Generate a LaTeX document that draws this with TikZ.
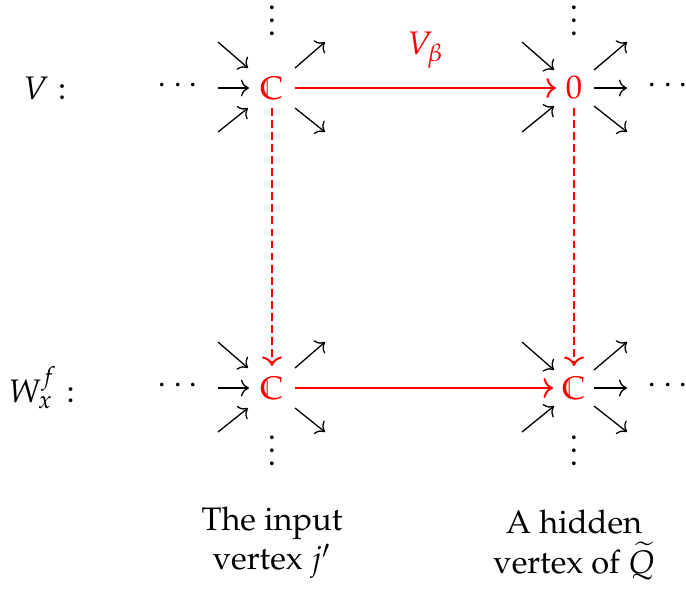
\documentclass[tikz,border=0pt]{standalone}
\usepackage[T1]{fontenc}
\usepackage{amssymb}
\usepackage{mathpazo}
\usetikzlibrary{arrows.meta}
\begin{document}
\begin{tikzpicture}[x=0.307pt,y=-0.307pt,
  stub/.style={->,line width=0.4pt},
  redarr/.style={->,red,line width=0.6pt},
  reddash/.style={->,red,line width=0.6pt,dash pattern=on 2.4pt off 1.3pt},
  vtx/.style={inner sep=0pt,text=red},
  lbl/.style={align=center,inner sep=0pt}]
\useasboundingbox (0,0) rectangle (686,590);
% vertices
\node[vtx] (cL) at (272,88) {$\mathbb{C}$};
\node[vtx] (zR) at (574,88) {$0$};
\node[vtx] (cBL) at (272,388) {$\mathbb{C}$};
\node[vtx] (cBR) at (574,388) {$\mathbb{C}$};
% row labels
\node (lV) at (45,88) {$V:$};
\node (lW) at (42,388) {$W^f_x:$};
% dots
\node (dl1) at (178,86) {$\cdots$};
\node (dl2) at (178,386) {$\cdots$};
\node (dr1) at (668,86) {$\cdots$};
\node (dr2) at (668,386) {$\cdots$};
\node (vu1) at (272,11) {$\vdots$};
\node (vu2) at (574,11) {$\vdots$};
\node (vd1) at (272,441) {$\vdots$};
\node (vd2) at (574,441) {$\vdots$};
% stubs
\foreach \v in {cL,cBL}{
  \draw[stub] ([shift={(-54,-46)}]\v.center) -- ([shift={(-24,-20)}]\v.center);
  \draw[stub] ([shift={(-54,0)}]\v.center) -- ([shift={(-23,0)}]\v.center);
  \draw[stub] ([shift={(-54,44)}]\v.center) -- ([shift={(-24,20)}]\v.center);
  \draw[stub] ([shift={(23,-20)}]\v.center) -- ([shift={(53,-46)}]\v.center);
  \draw[stub] ([shift={(23,20)}]\v.center) -- ([shift={(53,44)}]\v.center);
}
\foreach \v in {zR,cBR}{
  \draw[stub] ([shift={(-52,-46)}]\v.center) -- ([shift={(-20,-18)}]\v.center);
  \draw[stub] ([shift={(-52,44)}]\v.center) -- ([shift={(-20,18)}]\v.center);
  \draw[stub] ([shift={(20,-18)}]\v.center) -- ([shift={(53,-46)}]\v.center);
  \draw[stub] ([shift={(20,0)}]\v.center) -- ([shift={(53,0)}]\v.center);
  \draw[stub] ([shift={(20,18)}]\v.center) -- ([shift={(53,44)}]\v.center);
}
% red arrows
\draw[redarr] ([shift={(23,0)}]cL.center) -- node[above=2.5pt,text=red] (vb) {$V_\beta$} ([shift={(-18,0)}]zR.center);
\draw[redarr] ([shift={(23,0)}]cBL.center) -- ([shift={(-21,0)}]cBR.center);
\draw[reddash] ([shift={(0,20)}]cL.center) -- ([shift={(0,-22)}]cBL.center);
\draw[reddash] ([shift={(0,20)}]zR.center) -- ([shift={(0,-22)}]cBR.center);
% captions
\node[lbl] (t1) at (272,543) {The input\\vertex $j'$};
\node[lbl] (t2) at (574,545) {A hidden\\vertex of $\widetilde{Q}$};
\end{tikzpicture}
\end{document}
